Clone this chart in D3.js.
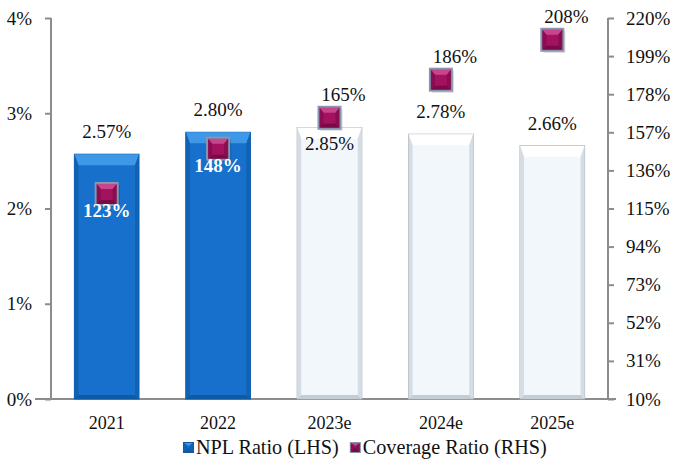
<!DOCTYPE html>
<html>
<head>
<meta charset="utf-8">
<script src="https://cdn.jsdelivr.net/npm/d3@7"></script>
<style>
  body { margin: 0; background: #fff; }
  text { font-family: "Liberation Serif", "DejaVu Serif", serif; fill: #111; }
</style>
</head>
<body>
<svg id="chart" width="676" height="464"></svg>
<script>
// data
var years = ["2021", "2022", "2023e", "2024e", "2025e"];
var npl = [2.57, 2.80, 2.85, 2.78, 2.66];
var coverage = [123, 148, 165, 186, 208];
var estimated = [false, false, true, true, true];
var leftTicks = [0, 1, 2, 3, 4];
var rightTicks = [10, 31, 52, 73, 94, 115, 136, 157, 178, 199, 220];

var svg = d3.select("#chart");
var margin = {top: 18, right: 68, bottom: 65, left: 51};
var width = 676 - margin.left - margin.right,
    height = 464 - margin.top - margin.bottom;

var g = svg.append("g")
  .attr("transform", "translate(" + margin.left + "," + margin.top + ")");

// scales
var x = d3.scaleBand().domain(years).range([0, width]).paddingInner(0.42).paddingOuter(0.21);
var yl = d3.scaleLinear().domain([0, 4]).range([height, 0]);
var yr = d3.scaleLinear().domain([10, 220]).range([height, 0]);

var axisColor = "#8c8c8c";
var fs = 19;

// left axis
var la = g.append("g")
  .call(d3.axisLeft(yl).tickValues(leftTicks).tickFormat(d => d + "%").tickSize(8).tickPadding(11));
la.select(".domain").remove();
la.selectAll("line").attr("stroke", axisColor).attr("stroke-width", 2).attr("x2", -6);
la.append("line").attr("y1", 0).attr("y2", height).attr("stroke", axisColor).attr("stroke-width", 2);
la.selectAll("text").attr("font-size", fs).attr("fill", "#111")
  .attr("font-family", "Liberation Serif");

// right axis
var ra = g.append("g")
  .attr("transform", "translate(" + width + ",0)")
  .call(d3.axisRight(yr).tickValues(rightTicks).tickFormat(d => d + "%").tickSize(8).tickPadding(10));
ra.select(".domain").remove();
ra.selectAll("line").attr("stroke", axisColor).attr("stroke-width", 2).attr("x2", 6);
ra.append("line").attr("y1", 0).attr("y2", height).attr("stroke", axisColor).attr("stroke-width", 2);
ra.selectAll("text").attr("font-size", fs).attr("fill", "#111")
  .attr("font-family", "Liberation Serif");

// bottom axis
g.append("line")
  .attr("x1", -16).attr("x2", width + 8)
  .attr("y1", height).attr("y2", height)
  .attr("stroke", axisColor).attr("stroke-width", 2);

var xa = g.append("g")
  .attr("transform", "translate(0," + height + ")")
  .call(d3.axisBottom(x).tickSize(0).tickPadding(17));
xa.select(".domain").remove();
xa.selectAll("text").attr("fill", "#111")
  .attr("font-family", "Liberation Sans Narrow, Liberation Sans")
  .attr("font-size", 18);

// bevelled box helper
function bevel(sel, x0, y0, w, h, c, t) {
  var s = 4;
  sel.append("rect").attr("x", x0).attr("y", y0).attr("width", w).attr("height", h)
    .attr("fill", c.base).attr("stroke", c.edge).attr("stroke-width", 1);
  // top bevel
  sel.append("polygon")
    .attr("points", [[x0, y0], [x0 + w, y0], [x0 + w - s, y0 + t], [x0 + s, y0 + t]].join(" "))
    .attr("fill", c.top);
  // left + right bevels
  sel.append("polygon")
    .attr("points", [[x0, y0], [x0 + s, y0 + t], [x0 + s, y0 + h - s], [x0, y0 + h]].join(" "))
    .attr("fill", c.side);
  sel.append("polygon")
    .attr("points", [[x0 + w, y0], [x0 + w - s, y0 + t], [x0 + w - s, y0 + h - s], [x0 + w, y0 + h]].join(" "))
    .attr("fill", c.side);
  // bottom bevel
  sel.append("polygon")
    .attr("points", [[x0, y0 + h], [x0 + s, y0 + h - s], [x0 + w - s, y0 + h - s], [x0 + w, y0 + h]].join(" "))
    .attr("fill", c.bottom);
}

var blue = {base: "#1670cc", edge: "#0e5aa6", top: "#3f97e8", side: "#1262b4", bottom: "#0f5aa5"};
var pale = {base: "#f2f7fc", edge: "#a9b0b8", top: "#ffffff", side: "#d5dce4", bottom: "#c4ccd6"};
var mag = {base: "#a3125f", edge: "#7f8fa8", top: "#c8458c", side: "#8a0d50", bottom: "#7a0a46"};

// bars
years.forEach(function(d, i) {
  var bx = x(d), by = yl(npl[i]);
  var bar = g.append("g").attr("class", "bar");
  bevel(bar, bx, by, x.bandwidth(), height - by, estimated[i] ? pale : blue, 11);
});

// npl labels
years.forEach(function(d, i) {
  var inside = i === 2;
  g.append("text")
    .attr("x", x(d) + x.bandwidth() / 2)
    .attr("y", inside ? yl(npl[i]) + 22 : yl(npl[i]) - 16)
    .attr("text-anchor", "middle")
    .attr("font-size", fs)
    .text(npl[i].toFixed(2) + "%");
});

// coverage markers
var ms = 22;
years.forEach(function(d, i) {
  var cx = x(d) + x.bandwidth() / 2, cy = yr(coverage[i]);
  var m = g.append("g").attr("class", "marker");
  m.append("rect").attr("x", cx - ms / 2 + 2).attr("y", cy - ms / 2 + 2).attr("width", ms).attr("height", ms)
    .attr("fill", "rgba(0,0,0,0.15)");
  m.append("rect").attr("x", cx - ms / 2 - 1).attr("y", cy - ms / 2 - 1).attr("width", ms + 2).attr("height", ms + 2)
    .attr("fill", "#8a97ae");
  bevel(m, cx - ms / 2 + 1, cy - ms / 2 + 1, ms - 2, ms - 2, mag, 5);
});

// coverage labels
years.forEach(function(d, i) {
  var cx = x(d) + x.bandwidth() / 2, cy = yr(coverage[i]);
  var white = !estimated[i];
  g.append("text")
    .attr("x", white ? cx : cx + 14)
    .attr("y", white ? cy + 23 : cy - 17)
    .attr("text-anchor", "middle")
    .attr("font-size", fs)
    .attr("font-weight", white ? "bold" : "normal")
    .style("fill", white ? "#fff" : "#111")
    .text(coverage[i] + "%");
});

// legend
var legend = svg.append("g").attr("transform", "translate(183,448)");
var items = [{label: "NPL Ratio (LHS)", c: blue}, {label: "Coverage Ratio (RHS)", c: mag}];
var lx = 0;
items.forEach(function(it) {
  var li = legend.append("g").attr("transform", "translate(" + lx + ",0)");
  li.append("rect").attr("x", 0).attr("y", -6).attr("width", 11).attr("height", 11)
    .attr("fill", it.c === mag ? "#8a97ae" : it.c.edge);
  bevel(li, 1, -5, 9, 9, it.c, 3);
  var t = li.append("text").attr("x", 13).attr("y", 6).attr("font-size", 20.2).text(it.label);
  lx += 13 + t.node().getComputedTextLength() + 11;
});
</script>
</body>
</html>
